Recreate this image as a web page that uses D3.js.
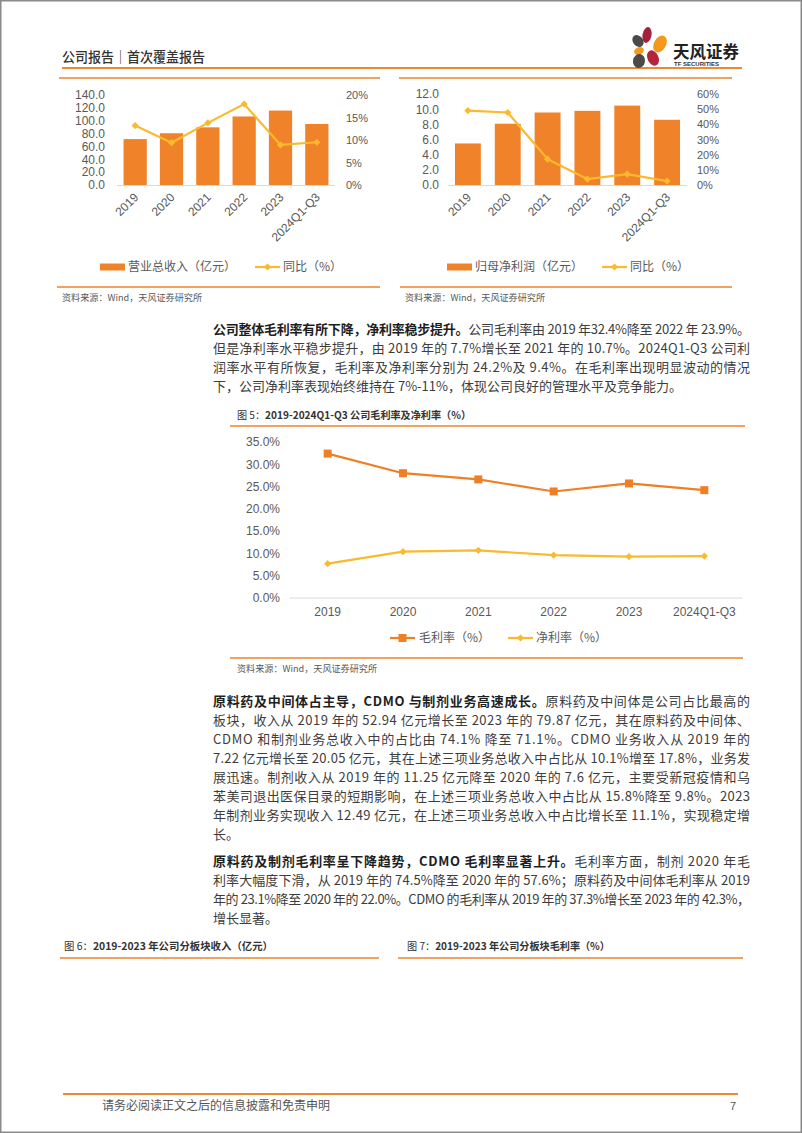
<!DOCTYPE html>
<html><head><meta charset="utf-8">
<script src="https://cdn.jsdelivr.net/npm/d3@7"></script>
<style>
body{margin:0;background:#fff;}
svg{display:block;}
text{font-family:"Liberation Sans","Noto Sans CJK SC",sans-serif;}
.cjk{font-family:"Noto Sans CJK SC","Liberation Sans",sans-serif;}
</style></head><body>
<svg id="page" width="802" height="1133"></svg>
<script>
// ---------------- data ----------------
const years = ["2019","2020","2021","2022","2023","2024Q1-Q3"];
const revenue = [71.4, 80.5, 89.7, 106.6, 115.8, 94.9];          // 营业总收入（亿元）
const revenueYoY = [13.2, 9.4, 13.8, 18.0, 8.9, 9.5];            // 同比（%）
const netProfit = [5.48, 8.08, 9.56, 9.78, 10.47, 8.60];          // 归母净利润（亿元）
const netProfitYoY = [49.1, 47.8, 17.0, 3.9, 7.2, 2.6];          // 同比（%）
const grossMargin = [32.4, 28.0, 26.6, 23.9, 25.7, 24.2];        // 毛利率（%）
const netMargin = [7.7, 10.4, 10.7, 9.6, 9.3, 9.4];              // 净利率（%）
const revTicks = [0,20,40,60,80,100,120,140];
const revYoYTicks = [0,5,10,15,20];
const npTicks = [0,2,4,6,8,10,12];
const npYoYTicks = [0,10,20,30,40,50,60];
const marginTicks = [0,5,10,15,20,25,30,35];

const para1 = [
  [{b:1,t:"公司整体毛利率有所下降，净利率稳步提升。"},{t:"公司毛利率由 2019 年32.4%降至 2022 年 23.9%。"}],
  [{t:"但是净利率水平稳步提升，由 2019 年的 7.7%增长至 2021 年的 10.7%。2024Q1-Q3 公司利"}],
  [{t:"润率水平有所恢复，毛利率及净利率分别为 24.2%及 9.4%。在毛利率出现明显波动的情况"}],
  [{t:"下，公司净利率表现始终维持在 7%-11%，体现公司良好的管理水平及竞争能力。"}]
];
const para2 = [
  [{b:1,t:"原料药及中间体占主导，CDMO 与制剂业务高速成长。"},{t:"原料药及中间体是公司占比最高的"}],
  [{t:"板块，收入从 2019 年的 52.94 亿元增长至 2023 年的 79.87 亿元，其在原料药及中间体、"}],
  [{t:"CDMO  和制剂业务总收入中的占比由  74.1%  降至  71.1%。CDMO  业务收入从  2019  年的"}],
  [{t:"7.22 亿元增长至 20.05 亿元，其在上述三项业务总收入中占比从 10.1%增至 17.8%，业务发"}],
  [{t:"展迅速。制剂收入从 2019 年的 11.25 亿元降至 2020 年的 7.6 亿元，主要受新冠疫情和乌"}],
  [{t:"苯美司退出医保目录的短期影响，在上述三项业务总收入中占比从 15.8%降至 9.8%。2023"}],
  [{t:"年制剂业务实现收入 12.49 亿元，在上述三项业务总收入中占比增长至 11.1%，实现稳定增"}],
  [{t:"长。"}]
];
const para3 = [
  [{b:1,t:"原料药及制剂毛利率呈下降趋势，CDMO 毛利率显著上升。"},{t:"毛利率方面，制剂 2020 年毛"}],
  [{t:"利率大幅度下滑，从 2019 年的 74.5%降至 2020 年的 57.6%；原料药及中间体毛利率从 2019"}],
  [{t:"年的 23.1%降至 2020 年的 22.0%。CDMO 的毛利率从 2019 年的 37.3%增长至 2023 年的 42.3%，"}],
  [{t:"增长显著。"}]
];

// ---------------- styles ----------------
const BAR = "#f0832a", GOLD = "#fbb92c", ORG = "#ef7f24";
const RULE = "#f0a25e", HEAD_RULE = "#ec8a30";
const AX = "#595959";

const svg = d3.select("#page");
svg.append("rect").attr("x",0.75).attr("y",0.75).attr("width",800.5).attr("height",1131.5)
  .attr("fill","#fff").attr("stroke","#8a8a8a").attr("stroke-width",1.5);

// header
svg.append("text").attr("class","cjk").attr("x",62).attr("y",57).attr("dy","0.35em")
  .attr("font-size",14).attr("font-weight",500).attr("fill","#333")
  .attr("textLength",143).attr("lengthAdjust","spacingAndGlyphs").text("公司报告｜首次覆盖报告");
svg.append("line").attr("x1",62).attr("x2",742).attr("y1",68).attr("y2",68)
  .attr("stroke",HEAD_RULE).attr("stroke-width",2);

// logo
const logo = svg.append("g");
const petals = [
  {cx:647,cy:35,rx:4.5,ry:8,rot:10,c:"#a3213a"},
  {cx:660,cy:44,rx:6,ry:9,rot:30,c:"#f39a1e"},
  {cx:638,cy:41,rx:5,ry:6.5,rot:-40,c:"#4a4a4a"},
  {cx:639,cy:51,rx:5,ry:3.8,rot:-20,c:"#f39a1e"},
  {cx:639,cy:61,rx:6,ry:7,rot:10,c:"#4a4a4a"},
  {cx:653,cy:58,rx:5.5,ry:8,rot:-25,c:"#b3243d"}
];
logo.selectAll("ellipse").data(petals).join("ellipse")
  .attr("transform",d=>`translate(${d.cx},${d.cy}) rotate(${d.rot})`)
  .attr("rx",d=>d.rx).attr("ry",d=>d.ry).attr("fill",d=>d.c);
svg.append("text").attr("class","cjk").attr("x",673).attr("y",52).attr("dy","0.35em")
  .attr("font-size",17).attr("font-weight",700).attr("fill","#222")
  .attr("textLength",66).attr("lengthAdjust","spacingAndGlyphs").text("天风证券");
svg.append("text").attr("x",674).attr("y",64).attr("dy","0.35em")
  .attr("font-size",6).attr("font-weight",700).attr("fill","#333")
  .attr("textLength",45).attr("lengthAdjust","spacingAndGlyphs").text("TF SECURITIES");

function rule(x1,x2,y,w){
  svg.append("line").attr("x1",x1).attr("x2",x2).attr("y1",y).attr("y2",y)
    .attr("stroke",RULE).attr("stroke-width",w||2);
}
function source(x,y,len){
  svg.append("text").attr("class","cjk").attr("x",x).attr("y",y).attr("dy","0.35em")
    .attr("font-size",9).attr("fill","#595959")
    .attr("textLength",len).attr("lengthAdjust","spacingAndGlyphs").text("资料来源：Wind，天风证券研究所");
}
function figTitle(x,y,num,rest,len){
  const t = svg.append("text").attr("class","cjk").attr("x",x).attr("y",y).attr("dy","0.35em")
    .attr("font-size",10.5).attr("fill","#333")
    .attr("textLength",len).attr("lengthAdjust","spacingAndGlyphs");
  t.append("tspan").text(num);
  t.append("tspan").attr("font-weight",700).text(rest);
}
function styleAxis(g, size){
  g.attr("font-size",null).attr("font-family",null);
  g.select(".domain").remove();
  g.selectAll("text").attr("fill",AX).attr("font-size",size||12);
}
const diamond = d3.symbol(d3.symbolSquare).size(26);
const square = d3.symbol(d3.symbolSquare).size(64);

// ---------------- combo charts ----------------
function combo(o){
  const g = svg.append("g");
  const x = d3.scaleBand().domain(years).range(o.xr).paddingInner(o.pad).paddingOuter(o.pad/2);
  const yL = d3.scaleLinear().domain(o.dl).range([o.y0,o.y1]);
  const yR = d3.scaleLinear().domain(o.dr).range([o.y0,o.y1]);
  g.append("g").attr("transform",`translate(${o.lx},0)`)
    .call(d3.axisLeft(yL).tickValues(o.tl).tickFormat(d3.format(".1f")).tickSize(0).tickPadding(0))
    .call(a=>styleAxis(a));
  g.append("g").attr("transform",`translate(${o.rx},0)`)
    .call(d3.axisRight(yR).tickValues(o.tr).tickFormat(d=>d+"%").tickSize(0).tickPadding(0))
    .call(a=>styleAxis(a,11));
  g.selectAll("rect.bar").data(o.bars).join("rect").attr("class","bar")
    .attr("x",(d,i)=>x(years[i])).attr("width",x.bandwidth())
    .attr("y",d=>yL(d)).attr("height",d=>yL(0)-yL(d)).attr("fill",BAR);
  g.append("line").attr("x1",o.xr[0]).attr("x2",o.xr[1]).attr("y1",yL(0)+0.5).attr("y2",yL(0)+0.5)
    .attr("stroke","#d9d9d9").attr("stroke-width",1);
  const cx = (d,i)=>x(years[i])+x.bandwidth()/2;
  g.append("path").datum(o.line).attr("fill","none").attr("stroke",GOLD).attr("stroke-width",2.2)
    .attr("d",d3.line().x(cx).y(d=>yR(d)));
  g.selectAll("path.mk").data(o.line).join("path").attr("class","mk")
    .attr("transform",(d,i)=>`translate(${cx(d,i)},${yR(d)}) rotate(45)`)
    .attr("d",diamond).attr("fill",GOLD);
  const xa = g.append("g").attr("transform",`translate(0,${yL(0)})`)
    .call(d3.axisBottom(x).tickSize(0)).call(a=>styleAxis(a));
  xa.selectAll("text").attr("text-anchor","end").attr("x",0).attr("y",0).attr("dy","0.35em")
    .attr("transform","translate(1,10) rotate(-45)");
  // legend
  const ly = o.ly;
  g.append("rect").attr("x",o.lg[0]).attr("y",ly-3.5).attr("width",25).attr("height",7).attr("fill",BAR);
  g.append("text").attr("class","cjk").attr("x",o.lg[0]+28).attr("y",ly).attr("dy","0.35em")
    .attr("font-size",12).attr("fill",AX).text(o.nb);
  g.append("line").attr("x1",o.lg[1]).attr("x2",o.lg[1]+25).attr("y1",ly).attr("y2",ly)
    .attr("stroke",GOLD).attr("stroke-width",2.2);
  g.append("path").attr("transform",`translate(${o.lg[1]+12.5},${ly}) rotate(45)`).attr("d",diamond).attr("fill",GOLD);
  g.append("text").attr("class","cjk").attr("x",o.lg[1]+28).attr("y",ly).attr("dy","0.35em")
    .attr("font-size",12).attr("fill",AX).text("同比（%）");
}

rule(59,380,78,2);
rule(399,732,78,2);
combo({xr:[117,335],pad:0.36,dl:[0,140],dr:[0,20],tl:revTicks,tr:revYoYTicks,y0:185,y1:95,
  lx:105,rx:346,bars:revenue,line:revenueYoY,ly:267,lg:[100,255],nb:"营业总收入（亿元）"});
combo({xr:[448,687],pad:0.35,dl:[0,12],dr:[0,60],tl:npTicks,tr:npYoYTicks,y0:185,y1:94,
  lx:439,rx:697,bars:netProfit,line:netProfitYoY,ly:267,lg:[447,602],nb:"归母净利润（亿元）"});
rule(57,380,287,2);
rule(400,732,287,2);
source(62,298,140);
source(405,298,140);

// ---------------- paragraphs ----------------
function para(lines,y0){
  lines.forEach((segs,i)=>{
    const t = svg.append("text").attr("class","cjk").attr("x",213).attr("y",y0+i*19).attr("dy","0.35em")
      .attr("font-size",13).attr("fill","#3d3d3d");
    if(i<lines.length-1) t.attr("textLength",537).attr("lengthAdjust","spacing");
    segs.forEach(s=>{
      const sp = t.append("tspan").text(s.t);
      if(s.b) sp.attr("font-weight",700).attr("fill","#1e1e1e");
    });
  });
}
para(para1,329);
para(para2,701);
para(para3,861);

// ---------------- figure 5 ----------------
figTitle(237,415,"图 5：","2019-2024Q1-Q3 公司毛利率及净利率（%）",234);
rule(230,745,426,2);
const x5 = d3.scaleBand().domain(years).range([290,742]);
const y5 = d3.scaleLinear().domain([0,35]).range([598,442]);
svg.append("g").attr("transform","translate(280,0)")
  .call(d3.axisLeft(y5).tickValues(marginTicks).tickFormat(d=>d.toFixed(1)+"%").tickSize(0).tickPadding(0))
  .call(a=>styleAxis(a));
svg.append("line").attr("x1",290).attr("x2",742).attr("y1",598).attr("y2",598)
  .attr("stroke","#d9d9d9").attr("stroke-width",1);
const xa5 = svg.append("g").attr("transform","translate(0,598)")
  .call(d3.axisBottom(x5).tickSize(0)).call(a=>styleAxis(a));
xa5.selectAll("text").attr("y",14).attr("dy","0.35em");
const c5 = (d,i)=>x5(years[i])+x5.bandwidth()/2;
svg.append("path").datum(grossMargin).attr("fill","none").attr("stroke",ORG).attr("stroke-width",2.2)
  .attr("d",d3.line().x(c5).y(d=>y5(d)));
svg.selectAll("path.gm").data(grossMargin).join("path").attr("class","gm")
  .attr("transform",(d,i)=>`translate(${c5(d,i)},${y5(d)})`).attr("d",square).attr("fill",ORG);
svg.append("path").datum(netMargin).attr("fill","none").attr("stroke",GOLD).attr("stroke-width",2.2)
  .attr("d",d3.line().x(c5).y(d=>y5(d)));
svg.selectAll("path.nm").data(netMargin).join("path").attr("class","nm")
  .attr("transform",(d,i)=>`translate(${c5(d,i)},${y5(d)}) rotate(45)`).attr("d",diamond).attr("fill",GOLD);
// legend fig 5
const l5 = svg.append("g");
l5.append("line").attr("x1",390).attr("x2",415).attr("y1",638).attr("y2",638).attr("stroke",ORG).attr("stroke-width",2.2);
l5.append("path").attr("transform","translate(402.5,638)").attr("d",square).attr("fill",ORG);
l5.append("text").attr("class","cjk").attr("x",419).attr("y",638).attr("dy","0.35em").attr("font-size",12).attr("fill",AX).text("毛利率（%）");
l5.append("line").attr("x1",508).attr("x2",533).attr("y1",638).attr("y2",638).attr("stroke",GOLD).attr("stroke-width",2.2);
l5.append("path").attr("transform","translate(520.5,638) rotate(45)").attr("d",diamond).attr("fill",GOLD);
l5.append("text").attr("class","cjk").attr("x",536).attr("y",638).attr("dy","0.35em").attr("font-size",12).attr("fill",AX).text("净利率（%）");
rule(230,743,658,2);
source(237,669,140);

// ---------------- figure 6 / 7 titles ----------------
figTitle(64,946,"图 6：","2019-2023 年公司分板块收入（亿元）",209);
figTitle(407,946,"图 7：","2019-2023 年公司分板块毛利率（%）",203);
rule(60,379,958,2);
rule(398,743,958,2);

// ---------------- footer ----------------
svg.append("line").attr("x1",63).attr("x2",738).attr("y1",1094).attr("y2",1094)
  .attr("stroke",HEAD_RULE).attr("stroke-width",2);
svg.append("text").attr("class","cjk").attr("x",102).attr("y",1106).attr("dy","0.35em")
  .attr("font-size",12).attr("fill","#555").attr("textLength",228).attr("lengthAdjust","spacingAndGlyphs")
  .text("请务必阅读正文之后的信息披露和免责申明");
svg.append("text").attr("x",730).attr("y",1106).attr("dy","0.35em").attr("font-size",11).attr("fill","#555").text("7");
</script>
</body></html>
